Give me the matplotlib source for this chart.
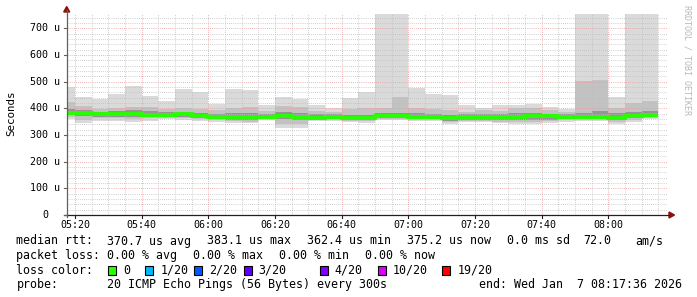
import numpy as np
import matplotlib
matplotlib.use("Agg")
import matplotlib.pyplot as plt
from matplotlib.patches import Polygon, Rectangle

# ---------------- data ----------------
bin_start = "05:15"          # first 5-minute bin (clipped by the window)
bin_minutes = 5
window_start = "05:17:36"
window_end = "08:17:36"

rtt_max = [479, 441, 435, 454, 484, 446, 427, 471, 461, 417, 472, 469, 411, 442, 435, 411, 402, 440,
           461, 760, 760, 478, 452, 449, 411, 400, 411, 411, 416, 405, 397, 760, 760, 442, 760, 760]
rtt_p90 = [422, 408, 398, 402, 404, 406, 398, 400, 396, 392, 402, 404, 390, 410, 404, 390, 386, 396,
           402, 400, 444, 402, 396, 392, 388, 392, 390, 402, 400, 392, 386, 502, 506, 402, 419, 427]
rtt_p75 = [398, 394, 388, 390, 392, 390, 386, 388, 384, 380, 384, 382, 380, 386, 382, 378, 378, 376,
           376, 384, 384, 382, 380, 376, 378, 378, 378, 384, 384, 380, 378, 384, 390, 382, 386, 390]
rtt_median = [383.1, 381, 377, 377, 379, 375, 375, 377, 371, 369, 366, 366, 369, 371, 369, 365, 367, 362.4,
              363, 370, 371, 369, 366, 363, 366, 366, 366, 369, 370, 370, 369, 369, 369, 364, 370, 375.2]
rtt_p25 = [374, 370, 368, 368, 368, 366, 366, 366, 362, 360, 358, 357, 362, 360, 358, 358, 360, 355,
           355, 362, 364, 362, 360, 354, 358, 358, 356, 356, 356, 358, 360, 362, 362, 355, 362, 368]
rtt_p10 = [368, 356, 362, 362, 360, 362, 364, 362, 360, 356, 352, 350, 360, 342, 342, 356, 358, 353,
           351, 360, 360, 358, 358, 347, 354, 354, 350, 348, 348, 352, 356, 358, 358, 348, 356, 364]
rtt_min = [360, 344, 354, 354, 350, 354, 359, 356, 354, 350, 346, 344, 356, 328, 328, 352, 354, 349,
           346, 356, 356, 354, 354, 341, 350, 350, 346, 341, 341, 346, 350, 354, 354, 341, 350, 359]

x_tick_labels = ["05:20", "05:40", "06:00", "06:20", "06:40", "07:00", "07:20", "07:40", "08:00"]
y_tick_values = [0, 100, 200, 300, 400, 500, 600, 700]
y_tick_labels = ["0", "100 u", "200 u", "300 u", "400 u", "500 u", "600 u", "700 u"]
y_top = 755

legend_stats = [("median rtt:", ["370.7 us avg", "383.1 us max", "362.4 us min", "375.2 us now",
                                 "0.0 ms sd", "72.0", "am/s"]),
                ("packet loss:", ["0.00 % avg", "0.00 % max", "0.00 % min", "0.00 % now"])]
loss_labels = ["0", "1/20", "2/20", "3/20", "4/20", "10/20", "19/20"]
loss_colors = ["#26ff00", "#00b8ff", "#0059ff", "#5e00ff", "#7e00ff", "#dd00ff", "#ff0000"]
probe_text = "20 ICMP Echo Pings (56 Bytes) every 300s"
end_text = "end: Wed Jan  7 08:17:36 2026"

# ---------------- helpers ----------------
def to_min(s):
    parts = [int(p) for p in s.split(":")]
    m = parts[0] * 60 + parts[1]
    if len(parts) > 2:
        m += parts[2] / 60.0
    return m

W, H = 697, 297
fig = plt.figure(figsize=(W / 100, H / 100), dpi=100)
fig.patch.set_facecolor("white")

def fx(x):
    return x / W

def fy(y):
    return 1 - y / H

AX_L, AX_R, AX_B = 67, 667, 215
px_per_u = (215 - 28.3) / 700.0
AX_T = AX_B - y_top * px_per_u

ax = fig.add_axes([fx(AX_L), fy(AX_B), (AX_R - AX_L) / W, (AX_B - AX_T) / H])
ax.set_facecolor("white")
for s in ax.spines.values():
    s.set_visible(False)
ax.set_xticks([])
ax.set_yticks([])

t0 = to_min(window_start)
t1 = to_min(window_end)
ax.set_xlim(t0, t1)
ax.set_ylim(0, y_top)

n = len(rtt_median)
edges = to_min(bin_start) + bin_minutes * np.arange(n + 1)

ax.stairs(rtt_max, edges, baseline=rtt_min, fill=True, color="#dadada", zorder=1)
ax.stairs(rtt_p90, edges, baseline=rtt_p10, fill=True, color="#c2c2c2", zorder=2)
ax.stairs(rtt_p75, edges, baseline=rtt_p25, fill=True, color="#959595", zorder=3)

# grid (drawn over the smoke like rrdtool)
dot = (0, (0.72, 1.44))
for v in range(20, 760, 20):
    if v % 100 == 0:
        continue
    ax.axhline(v, color="#bdbdbd", lw=0.7, ls=dot, zorder=4)
for v in y_tick_values[1:]:
    ax.axhline(v, color="#e89a9a", lw=0.7, ls=dot, zorder=5)
xticks = [to_min(l) for l in x_tick_labels]
m = to_min(bin_start) + bin_minutes
while m < t1:
    if m not in xticks:
        ax.axvline(m, color="#bdbdbd", lw=0.7, ls=dot, zorder=4)
    m += bin_minutes
for m in xticks:
    ax.axvline(m, color="#e89a9a", lw=0.7, ls=dot, zorder=5)

ax.stairs(rtt_median, edges, baseline=None, color=loss_colors[0], lw=2.8, zorder=6)

# axes lines and arrows (pixel coordinates on the figure)
fig.add_artist(plt.Line2D([fx(66.7), fx(66.7)], [fy(217), fy(10)], color="#606060", lw=0.9))
fig.add_artist(plt.Line2D([fx(64), fx(669)], [fy(215), fy(215)], color="#202020", lw=0.9))
fig.add_artist(Polygon([[fx(63.7), fy(12)], [fx(69.7), fy(12)], [fx(66.7), fy(6.5)]],
                       closed=True, color="#8b1010", transform=fig.transFigure))
fig.add_artist(Polygon([[fx(669), fy(212)], [fx(669), fy(218)], [fx(674.5), fy(215)]],
                       closed=True, color="#8b1010", transform=fig.transFigure))

mono = "DejaVu Sans Mono"
fs_axis = 7.2
fs = 8.4
txtc = "#000000"

# y tick labels
for v, lab in zip(y_tick_values, y_tick_labels):
    yy = AX_B - v * px_per_u
    xr = 59.5 if lab.endswith("u") else 48.5
    fig.text(fx(xr), fy(yy), lab, ha="right", va="center", family=mono, fontsize=fs_axis, color=txtc)
    fig.add_artist(plt.Line2D([fx(64), fx(66.7)], [fy(yy), fy(yy)], color="#606060", lw=0.8))

# x tick labels
for lab in x_tick_labels:
    xx = AX_L + (to_min(lab) - t0) / (t1 - t0) * (AX_R - AX_L)
    fig.text(fx(xx), fy(225), lab, ha="center", va="center", family=mono, fontsize=fs_axis, color=txtc)
    fig.add_artist(plt.Line2D([fx(xx), fx(xx)], [fy(215), fy(218)], color="#202020", lw=0.8))

fig.text(fx(11), fy(113), "Seconds", rotation=90, ha="center", va="center", family=mono,
         fontsize=7.8, color=txtc)
fig.text(fx(687), fy(5), "RRDTOOL / TOBI OETIKER", rotation=270, ha="center", va="top",
         family=mono, fontsize=6.0, color="#b8b8b8")

# legend
line_y = [241, 255.5, 270, 284.5]
stat_x = [[106.7, 206.7, 306.7, 406.7, 506.7, 583.6, 635.6],
          [106.7, 193.3, 279.0, 365.3]]
for (head, items), xs, yy in zip(legend_stats, stat_x, line_y):
    fig.text(fx(16.4), fy(yy), head, ha="left", va="center", family=mono, fontsize=fs, color=txtc)
    for it, xx in zip(items, xs):
        fig.text(fx(xx), fy(yy), it, ha="left", va="center", family=mono, fontsize=fs, color=txtc)

fig.text(fx(16.4), fy(line_y[2]), "loss color:", ha="left", va="center", family=mono, fontsize=fs,
         color=txtc)
box_x = [108.0, 145.3, 194.2, 243.6, 319.6, 377.8, 442.2]
for lab, col, bx in zip(loss_labels, loss_colors, box_x):
    fig.add_artist(Rectangle((fx(bx), fy(line_y[2] + 4.5)), 8 / W, 9 / H, facecolor=col,
                             edgecolor="black", lw=0.8, transform=fig.transFigure))
    fig.text(fx(bx + 15), fy(line_y[2]), lab, ha="left", va="center", family=mono, fontsize=fs,
             color=txtc)

fig.text(fx(16.4), fy(line_y[3]), "probe:", ha="left", va="center", family=mono, fontsize=fs, color=txtc)
fig.text(fx(106.7), fy(line_y[3]), probe_text, ha="left", va="center", family=mono, fontsize=fs,
         color=txtc)
fig.text(fx(478.7), fy(line_y[3]), end_text, ha="left", va="center", family=mono, fontsize=fs,
         color=txtc)

fig.savefig("out.png", dpi=100, facecolor="white")
